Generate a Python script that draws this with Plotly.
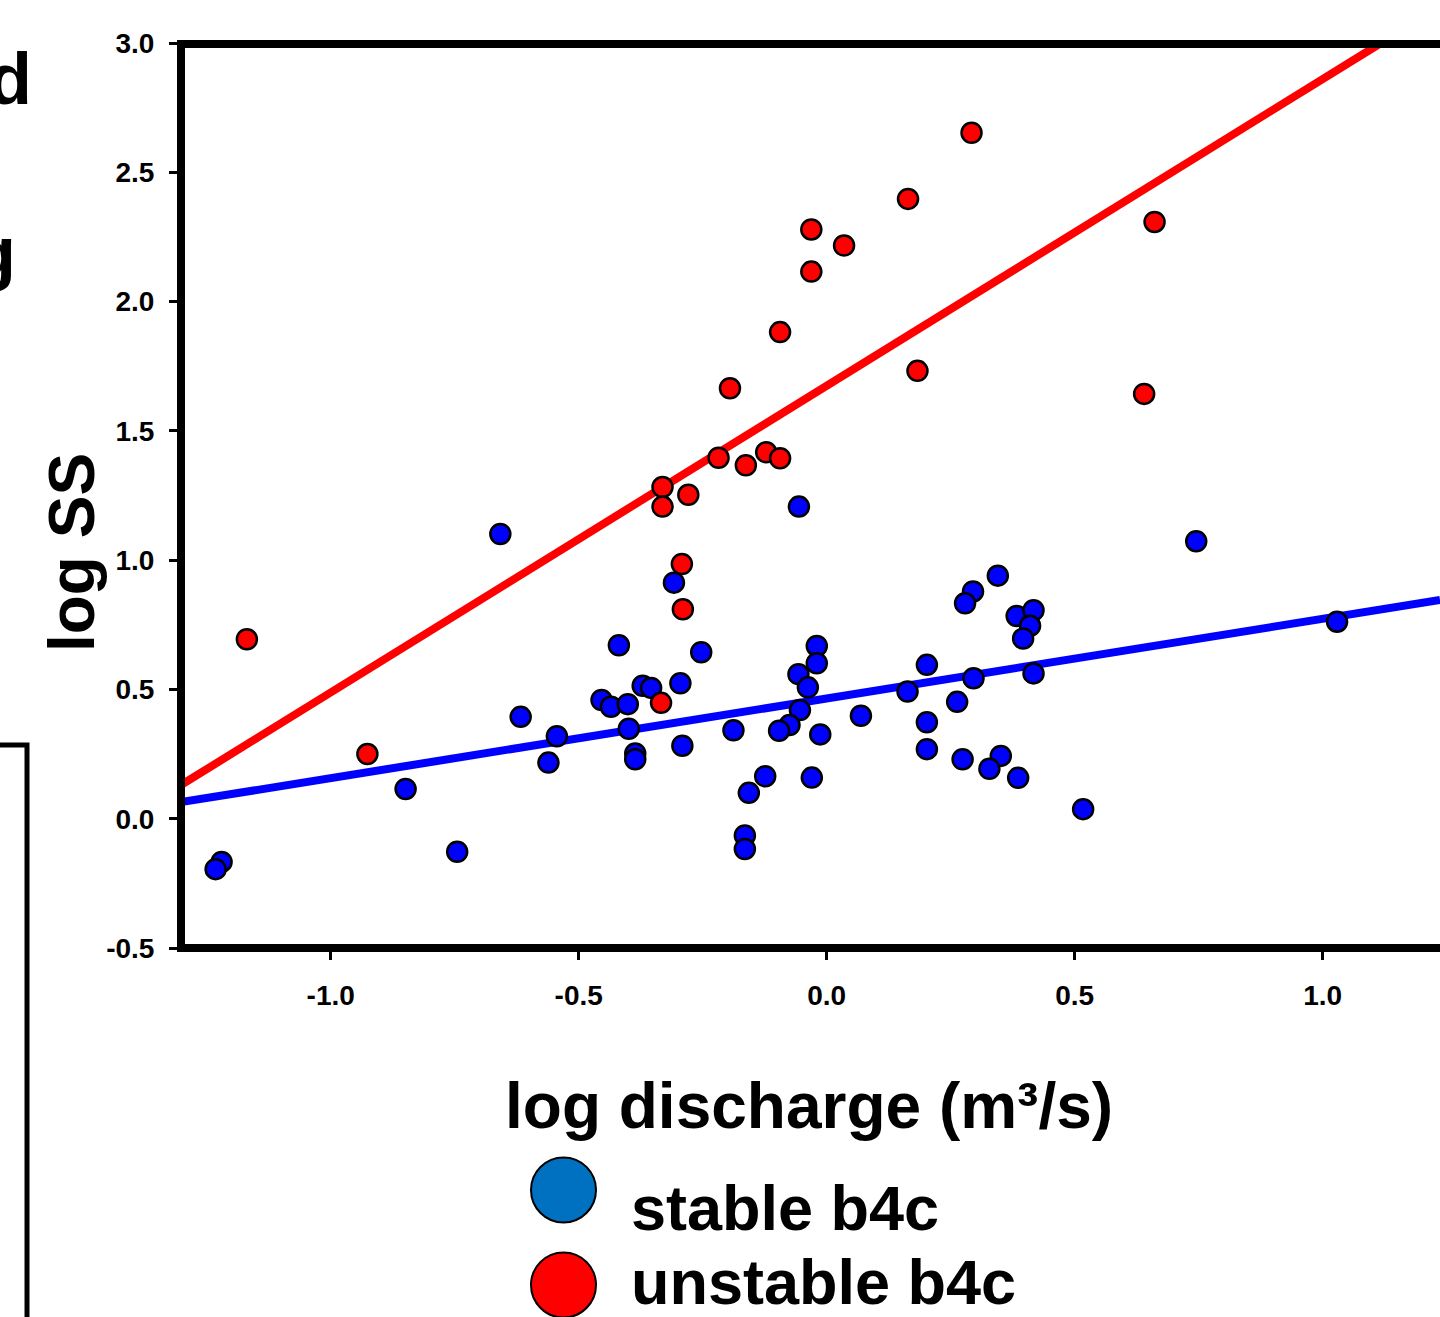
import plotly.graph_objects as go

# ---------------- data ----------------
stable_x = [-0.658, -0.849, -0.745, -1.220, -1.232, -0.308, -0.056, 0.745, 1.029,
            -0.419, -0.253, -0.617, -0.544, -0.561, -0.454, -0.435, -0.401, -0.371,
            -0.354, -0.295, -0.399, -0.386, -0.386, -0.291, -0.188, -0.124, -0.157,
            -0.165, -0.165, -0.020, -0.020, -0.057, -0.038, -0.054, -0.075, -0.096,
            -0.013, -0.030,
            0.345, 0.295, 0.279, 0.383, 0.417, 0.410, 0.396, 0.202, 0.296, 0.417,
            0.163, 0.263, 0.069, 0.202, 0.202, 0.274, 0.351, 0.328, 0.386, 0.517]
stable_y = [1.101, 0.115, -0.128, -0.167, -0.195, 0.913, 1.207, 1.073, 0.762,
            0.671, 0.644, 0.394, 0.319, 0.217, 0.459, 0.433, 0.443, 0.514,
            0.506, 0.524, 0.348, 0.252, 0.230, 0.282, 0.342, 0.164, 0.100,
            -0.065, -0.117, 0.668, 0.601, 0.559, 0.508, 0.420, 0.362, 0.340,
            0.326, 0.159,
            0.940, 0.879, 0.833, 0.784, 0.806, 0.746, 0.697, 0.595, 0.543, 0.562,
            0.492, 0.452, 0.398, 0.373, 0.269, 0.230, 0.243, 0.193, 0.158, 0.037]

unstable_x = [-1.169, -0.926, -0.334, -0.331, -0.331, -0.279, -0.292, -0.290,
              -0.218, -0.195, -0.163, -0.122, -0.094, -0.094, -0.031, -0.031,
              0.035, 0.164, 0.183, 0.292, 0.661, 0.640]
unstable_y = [0.694, 0.250, 0.448, 1.283, 1.207, 1.253, 0.985, 0.810,
              1.396, 1.665, 1.367, 1.417, 1.394, 1.882, 2.279, 2.116,
              2.217, 2.397, 1.732, 2.653, 2.308, 1.643]

stable_fit_x = [-1.302, 1.2365]
stable_fit_y = [0.064, 0.846]
unstable_fit_x = [-1.302, 1.1175]
unstable_fit_y = [0.130, 3.0]

x_tick_vals = [-1.0, -0.5, 0.0, 0.5, 1.0]
x_tick_text = ["-1.0", "-0.5", "0.0", "0.5", "1.0"]
y_tick_vals = [-0.5, 0.0, 0.5, 1.0, 1.5, 2.0, 2.5, 3.0]
y_tick_text = ["-0.5", "0.0", "0.5", "1.0", "1.5", "2.0", "2.5", "3.0"]

x_title = "log discharge (m³/s)"
y_title = "log SS"
legend_labels = ["stable b4c", "unstable b4c"]
legend_colors = ["#0070C0", "#FF0000"]

# ---------------- layout geometry ----------------
W, H = 1440, 1317
L, R, T, B = 181, 0, 43, 369
PW = W - L - R
PH = H - T - B
FONT = "Liberation Sans, Arial, Helvetica, sans-serif"


def px(x):
    return (x - L) / PW


def py(y):
    return (H - B - y) / PH


fig = go.Figure()

fig.add_trace(go.Scatter(x=stable_fit_x, y=stable_fit_y, mode="lines",
                         line=dict(color="#0000FF", width=8), hoverinfo="skip"))
fig.add_trace(go.Scatter(x=unstable_fit_x, y=unstable_fit_y, mode="lines",
                         line=dict(color="#FF0000", width=8), hoverinfo="skip"))
fig.add_trace(go.Scatter(x=stable_x, y=stable_y, mode="markers",
                         marker=dict(color="#0000FF", size=20,
                                     line=dict(color="black", width=2.5))))
fig.add_trace(go.Scatter(x=unstable_x, y=unstable_y, mode="markers",
                         marker=dict(color="#FF0000", size=20,
                                     line=dict(color="black", width=2.5))))

tickfont = dict(family=FONT, size=28, color="black", weight="bold")

fig.update_layout(
    width=W, height=H,
    margin=dict(l=L, r=R, t=T, b=B, pad=0),
    paper_bgcolor="white", plot_bgcolor="white",
    showlegend=False, hovermode=False,
    xaxis=dict(range=[(L - 826.7) / 496, (W - 826.7) / 496],
               tickvals=x_tick_vals, ticktext=x_tick_text,
               ticks="outside", ticklen=11, tickwidth=2.5, tickcolor="black",
               tickfont=tickfont, ticklabelstandoff=11,
               showgrid=False, zeroline=False, showline=False),
    yaxis=dict(range=[-0.5, 3.0],
               tickvals=y_tick_vals, ticktext=y_tick_text,
               ticks="outside", ticklen=11, tickwidth=2.5, tickcolor="black",
               tickfont=tickfont, ticklabelstandoff=9,
               showgrid=False, zeroline=False, showline=False),
)

shapes = []
# plot frame: left, top, bottom (right side open / cropped)
shapes.append(dict(type="line", xref="paper", yref="paper", x0=0, x1=0,
                   y0=py(952), y1=py(40), line=dict(color="black", width=8), layer="above"))
shapes.append(dict(type="line", xref="paper", yref="paper", x0=px(177), x1=px(1460),
                   y0=py(44), y1=py(44), line=dict(color="black", width=8), layer="above"))
shapes.append(dict(type="line", xref="paper", yref="paper", x0=px(177), x1=px(1460),
                   y0=py(948), y1=py(948), line=dict(color="black", width=8), layer="above"))
# cropped neighbouring box on the left
shapes.append(dict(type="rect", xref="paper", yref="paper", x0=px(-60), x1=px(27),
                   y0=py(1400), y1=py(745), line=dict(color="black", width=5),
                   fillcolor="rgba(0,0,0,0)", layer="above"))
# legend circles
legend_centers = [1190, 1285]
for c, col in zip(legend_centers, legend_colors):
    shapes.append(dict(type="circle", xref="paper", yref="paper",
                       x0=px(531), x1=px(596), y0=py(c + 32.5), y1=py(c - 32.5),
                       fillcolor=col, line=dict(color="black", width=2), layer="above"))
fig.update_layout(shapes=shapes)

annotations = [
    dict(text=x_title, x=px(808.5), y=py(1106), xref="paper", yref="paper",
         xanchor="center", yanchor="middle", showarrow=False,
         font=dict(family=FONT, size=64, color="black", weight="bold")),
    dict(text=y_title, x=px(72), y=py(553), xref="paper", yref="paper",
         xanchor="center", yanchor="middle", showarrow=False, textangle=-90,
         font=dict(family=FONT, size=64, color="black", weight="bold")),
    dict(text=legend_labels[0], x=px(629), y=py(1208), xref="paper", yref="paper",
         xanchor="left", yanchor="middle", showarrow=False,
         font=dict(family=FONT, size=63, color="black", weight="bold")),
    dict(text=legend_labels[1], x=px(629), y=py(1282), xref="paper", yref="paper",
         xanchor="left", yanchor="middle", showarrow=False,
         font=dict(family=FONT, size=63, color="black", weight="bold")),
    # cropped neighbouring text fragments (cut at the left edge, as in the reference)
    dict(text="d", x=px(34), y=py(79), xref="paper", yref="paper",
         xanchor="right", yanchor="middle", showarrow=False,
         font=dict(family=FONT, size=72, color="black", weight="bold")),
    dict(text="g", x=px(18), y=py(252), xref="paper", yref="paper",
         xanchor="right", yanchor="middle", showarrow=False,
         font=dict(family=FONT, size=72, color="black", weight="bold")),
]
fig.update_layout(annotations=annotations)

fig.write_html("out.html", config={"displayModeBar": False},
               post_script="document.body.style.margin='0';document.body.style.overflow='hidden';")
